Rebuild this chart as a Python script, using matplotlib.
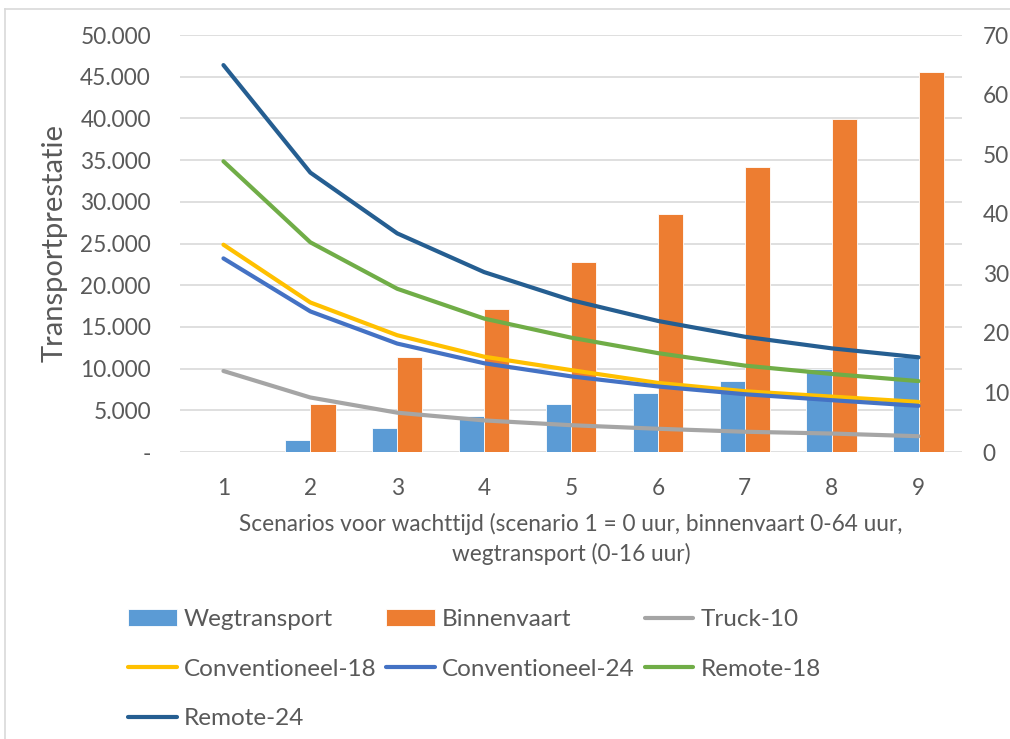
import numpy as np
import matplotlib
matplotlib.use("Agg")
import matplotlib.pyplot as plt
from matplotlib.ticker import FuncFormatter, MultipleLocator
from matplotlib.lines import Line2D

plt.rcParams['font.family'] = ['Lato', 'DejaVu Sans']

# scenario data
scenarios = [1, 2, 3, 4, 5, 6, 7, 8, 9]

# transportprestatie (left axis, bars)
wegtransport = [0, 1425, 2850, 4275, 5700, 7125, 8550, 9975, 11400]
binnenvaart = [0, 5700, 11400, 17100, 22800, 28500, 34200, 39900, 45600]

# vessel / truck series (right axis, lines)
truck_10 = [13.6, 9.15, 6.6, 5.3, 4.5, 3.9, 3.4, 3.1, 2.65]
conv_18 = [34.8, 25.1, 19.6, 16.0, 13.75, 11.6, 10.2, 9.3, 8.4]
conv_24 = [32.5, 23.6, 18.2, 14.9, 12.7, 11.0, 9.7, 8.7, 7.75]
remote_18 = [48.8, 35.2, 27.4, 22.4, 19.2, 16.6, 14.5, 13.1, 11.9]
remote_24 = [64.95, 46.9, 36.7, 30.2, 25.5, 22.0, 19.35, 17.4, 15.9]

txtcol = "#595959"
gridcol = "#D9D9D9"
fs = 16.3

fig = plt.figure(figsize=(10.1, 7.39), dpi=100)
ax = fig.add_axes([180/1010, 1 - 452/739, 782/1010, 417/739])
ax2 = ax.twinx()

x = np.array(scenarios)
bw = 0.29
b1 = ax.bar(x - bw/2, wegtransport, bw, color="#5B9BD5", edgecolor="white", linewidth=0.6, label="Wegtransport", zorder=2)
b2 = ax.bar(x + bw/2, binnenvaart, bw, color="#ED7D31", edgecolor="white", linewidth=0.6, label="Binnenvaart", zorder=2)

lw = 3.0
series = [
    (truck_10, "#A5A5A5", "Truck-10"),
    (conv_18, "#FFC000", "Conventioneel-18"),
    (conv_24, "#4472C4", "Conventioneel-24"),
    (remote_18, "#70AD47", "Remote-18"),
    (remote_24, "#255E91", "Remote-24"),
]
lines = []
for vals, col, lab in series:
    ln, = ax2.plot(x, vals, color=col, linewidth=lw, solid_capstyle="round", label=lab)
    lines.append(ln)

ax.set_xlim(0.5, 9.5)
ax.set_ylim(0, 50000)
ax2.set_ylim(0, 70)
ax.yaxis.set_major_locator(MultipleLocator(5000))
ax2.yaxis.set_major_locator(MultipleLocator(10))

def nl_thousands(v, pos):
    if v == 0:
        return "-"
    return "{:,.0f}".format(v).replace(",", ".")

ax.yaxis.set_major_formatter(FuncFormatter(nl_thousands))
ax.set_xticks(scenarios)

ax.grid(axis="y", color=gridcol, linewidth=1.2, zorder=0)
ax.set_axisbelow(True)
for a in (ax, ax2):
    for s in a.spines.values():
        s.set_visible(False)
    a.tick_params(length=0, colors=txtcol, labelsize=fs)
ax.tick_params(axis="y", pad=21)
ax.tick_params(axis="x", pad=19)
ax2.tick_params(axis="y", pad=15)

ax.set_ylabel("Transportprestatie", fontsize=21, color=txtcol, labelpad=9)
ax.set_xlabel("Scenarios voor wachttijd (scenario 1 = 0 uur, binnenvaart 0-64 uur,\nwegtransport (0-16 uur)",
              fontsize=fs, color=txtcol, linespacing=1.4, labelpad=10)

# legend filled column-wise, so order entries to read row by row
h = [b1, lines[1], lines[4], b2, lines[2], lines[0], lines[3]]
leg = fig.legend(handles=h, labels=[k.get_label() for k in h], ncol=3,
                 loc="upper left", bbox_to_anchor=(128/1010, 1 - 609/739),
                 frameon=False, fontsize=17.5, labelcolor=txtcol,
                 handlelength=2.0, handletextpad=0.3, columnspacing=0.4,
                 labelspacing=1.18, borderaxespad=0, borderpad=0)

# chart border
fig.add_artist(Line2D([5/1010, 5/1010], [0, 1 - 9/739], color=gridcol, linewidth=1.2))
fig.add_artist(Line2D([5/1010, 1], [1 - 9/739, 1 - 9/739], color=gridcol, linewidth=1.2))

fig.savefig("out.png", dpi=100)
